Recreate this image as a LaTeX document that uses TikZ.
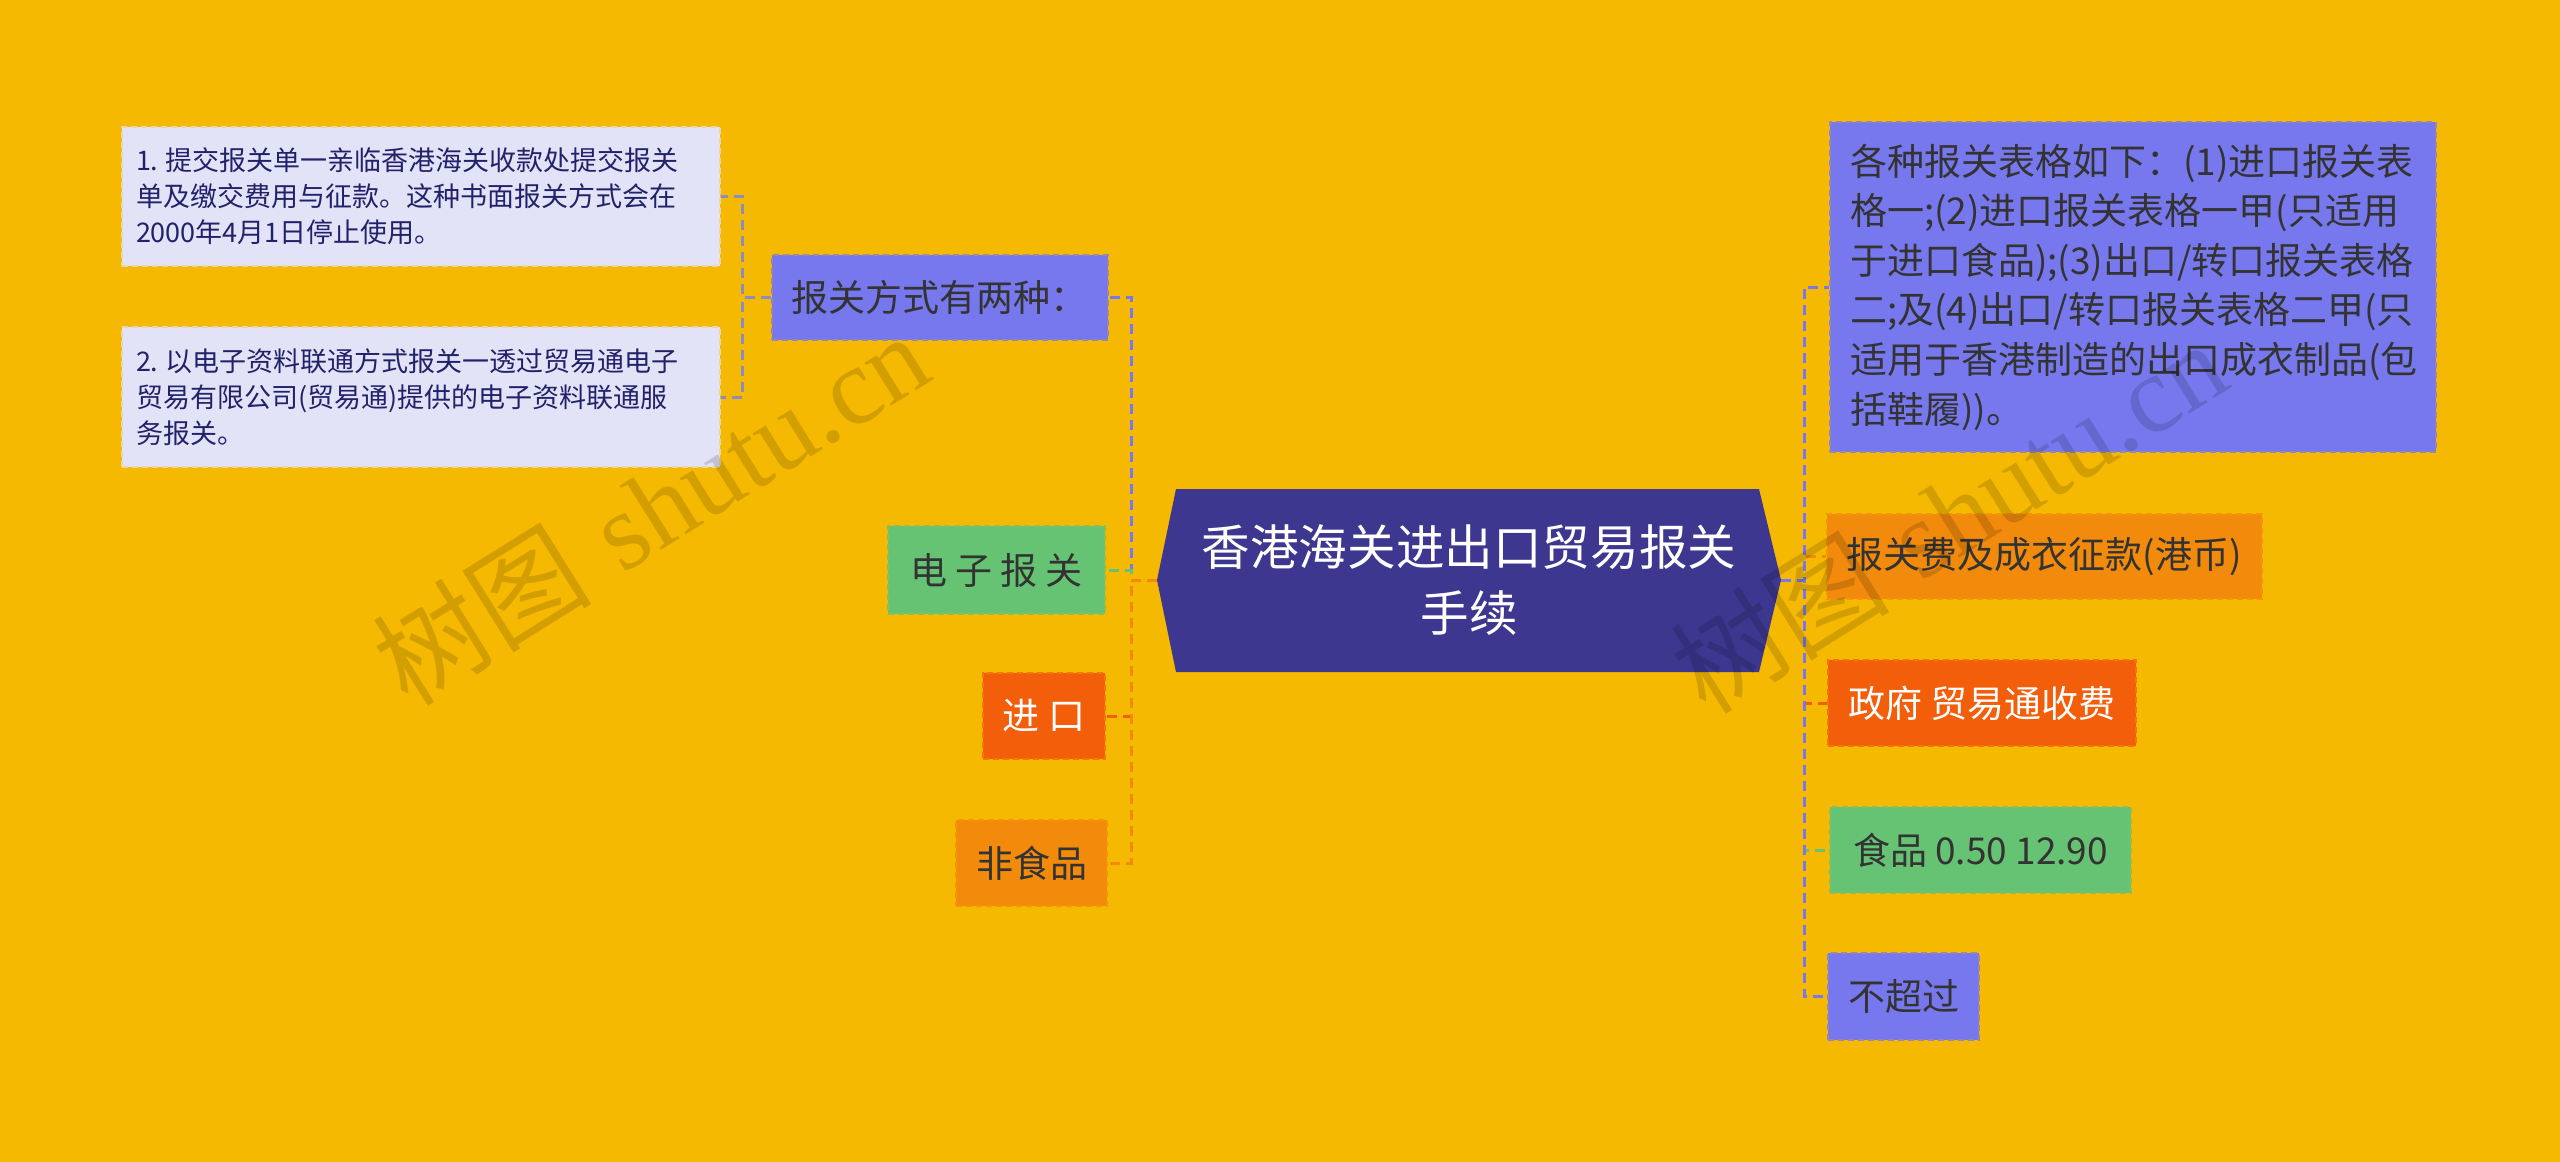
\documentclass[tikz,border=0pt]{standalone}
\usepackage{fontspec}
\newfontfamily\cjk{Noto Sans CJK SC}
\newfontfamily\wmserif{Liberation Serif}
\usetikzlibrary{calc}
\definecolor{bg}{HTML}{F6B902}
\definecolor{rootc}{HTML}{3D378F}
\definecolor{peri}{HTML}{7778EE}
\definecolor{lav}{HTML}{E3E3F7}
\definecolor{grn}{HTML}{66C373}
\definecolor{org}{HTML}{F28A0C}
\definecolor{red}{HTML}{F25E0A}
\definecolor{txt}{HTML}{333333}
\definecolor{navy}{HTML}{22226A}
\definecolor{leaflink}{HTML}{8C8CC4}
\begin{document}
\begin{tikzpicture}[x=0.5pt,y=-0.5pt]
\tikzset{
  base/.style={rectangle, inner xsep=10pt, inner ysep=0pt, line width=1pt,
    dash pattern=on 3pt off 2pt, text=txt,
    font=\cjk\fontsize{18.5}{24.8}\selectfont},
  peribox/.style={base, fill=peri, draw=peri!75!bg},
  grnbox/.style={base, fill=grn, draw=grn!75!bg},
  orgbox/.style={base, fill=org, draw=org!75!bg},
  redbox/.style={base, fill=red, draw=red!75!bg, text=white},
  leafbox/.style={base, fill=lav, draw=lav!70!bg, text=navy, inner xsep=7pt,
    text width=285pt, align=left, font=\cjk\fontsize{13.5}{18}\selectfont},
  link/.style={line width=1.5pt, dash pattern=on 5pt off 3pt},
  wm/.style={text=black, opacity=0.14, rotate=32, font=\fontsize{55}{60}\selectfont}
}
\fill[bg] (0,0) rectangle (2560,1162);
\useasboundingbox (0,0) rectangle (2560,1162);

% root
\coordinate (rootL) at (1157,580);
\coordinate (rootR) at (1781,580);
\fill[rootc] (1176,489) -- (1759,489) -- (rootR) -- (1759,672) -- (1176,672) -- (rootL) -- cycle;
\node[text=white, align=center, font=\cjk\fontsize{24.3}{32.6}\selectfont] (root) at (1469,580)
  {香港海关进出口贸易报关\\手续};

% left branch
\node[peribox, minimum width=165.5pt, minimum height=42.5pt] (way) at (939.5,297.5) {报关方式有两种：};
\node[grnbox, minimum width=108.5pt, minimum height=44pt] (dz) at (996.5,570) {电 子 报 关};
\node[redbox, minimum width=61pt, minimum height=43pt] (jk) at (1044,716) {进 口};
\node[orgbox, minimum width=73.5pt, minimum height=43pt] (fsp) at (1031.5,863) {非食品};

\node[leafbox, minimum height=69.5pt] (leaf1) at (421,196.5)
  {1.\hspace{0.25em}提交报关单一亲临香港海关收款处提交报关\\单及缴交费用与征款。这种书面报关方式会在\\2000年4月1日停止使用。};
\node[leafbox, minimum height=70pt] (leaf2) at (421,397)
  {2.\hspace{0.25em}以电子资料联通方式报关一透过贸易通电子\\贸易有限公司(贸易通)提供的电子资料联通服\\务报关。};

% right branch
\node[peribox, text width=283pt, align=left, minimum height=165pt] (forms) at (2133,287)
  {各种报关表格如下：(1)进口报关表\\格一;(2)进口报关表格一甲(只适用\\于进口食品);(3)出口/转口报关表格\\二;及(4)出口/转口报关表格二甲(只\\适用于香港制造的出口成衣制品(包\\括鞋履))。};
\node[orgbox, minimum width=214pt, minimum height=42.5pt] (fee) at (2044,556.5) {报关费及成衣征款(港币)};
\node[redbox, minimum width=152pt, minimum height=43pt] (gov) at (1982,703) {政府 贸易通收费};
\node[grnbox, minimum width=150.5pt, minimum height=43pt] (food) at (1980.5,850) {食品 0.50 12.90};
\node[peribox, minimum width=73.5pt, minimum height=43.5pt] (nomore) at (1903.5,996.5) {不超过};

% connectors left
\draw[link, peri] (rootL) -- ++(-26,0) |- (way.east);
\draw[link, grn] (rootL) -- ++(-26,0) |- (dz.east);
\draw[link, red] (rootL) -- ++(-26,0) |- (jk.east);
\draw[link, org] (rootL) -- ++(-26,0) |- (fsp.east);
\draw[link, leaflink] (way.west) -- ++(-28,0) |- (leaf1.east);
\draw[link, leaflink] (way.west) -- ++(-28,0) |- (leaf2.east);

% connectors right
\draw[link, org] (rootR) -- ++(23,0) |- (fee.west);
\draw[link, red] (rootR) -- ++(23,0) |- (gov.west);
\draw[link, grn] (rootR) -- ++(23,0) |- (food.west);
\draw[link, peri] (rootR) -- ++(23,0) |- (forms.west);
\draw[link, peri] (rootR) -- ++(23,0) |- (nomore.west);

% watermarks
\node[wm] (wm1) at (650,508) {{\cjk 树图} {\wmserif shutu.cn}};
\node[wm] (wm2) at (1948,516) {{\cjk 树图} {\wmserif shutu.cn}};
\end{tikzpicture}
\end{document}
